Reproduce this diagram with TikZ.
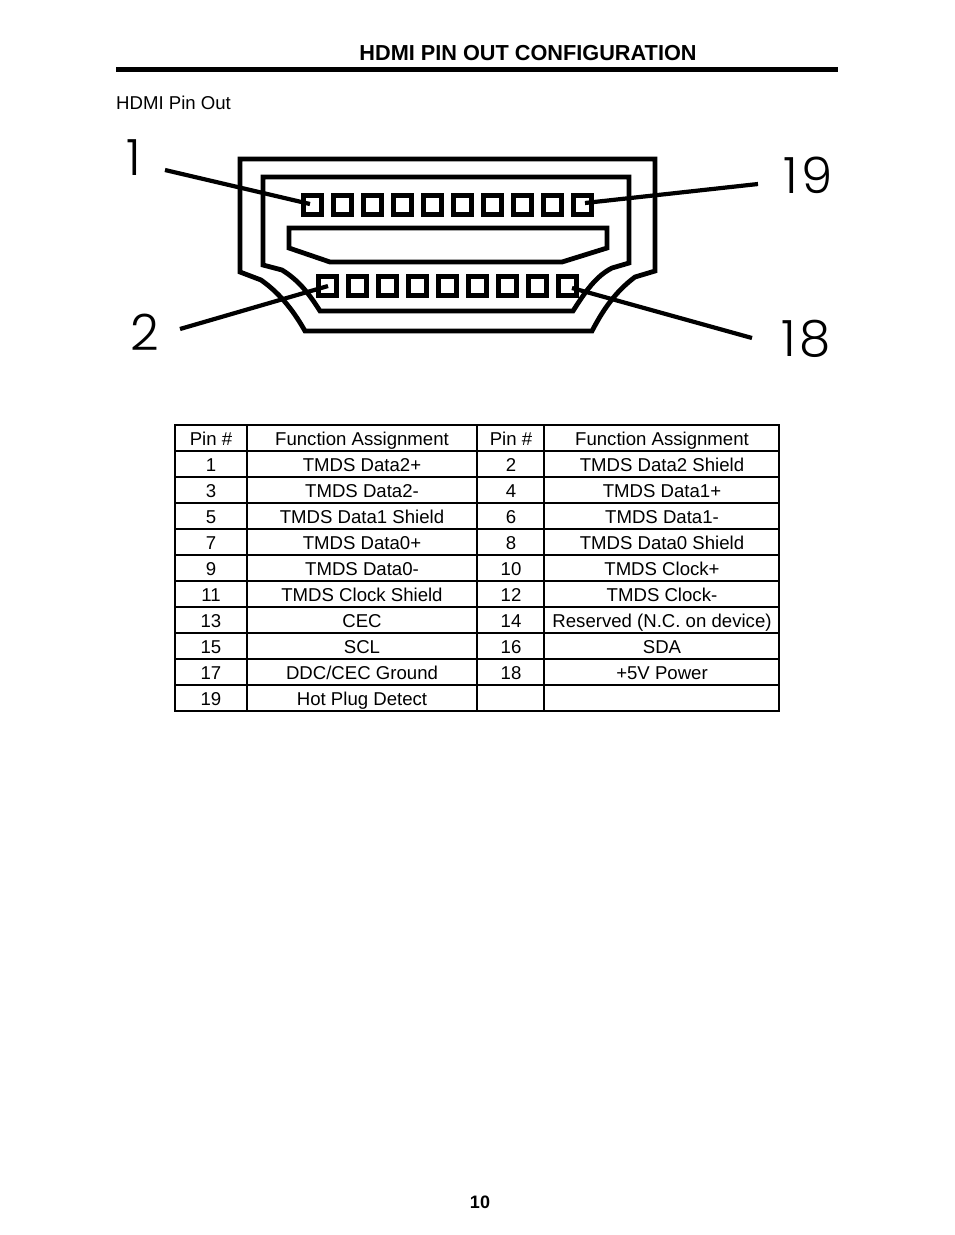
\documentclass[tikz,border=0pt]{standalone}
\usepackage{fontspec}
\setmainfont{Liberation Sans}
\newfontfamily\digitfont[UprightFont=* Light,LetterSpace=8]{Poppins}
\tikzset{
  shell/.style={line width=4.8pt,line join=miter,black},
  pinbox/.style={draw,line width=5pt,minimum width=18pt,minimum height=19.5pt,inner sep=0pt,outer sep=0pt},
  leader/.style={line width=4.2pt,black},
  grid/.style={line width=2.3pt,line cap=rect},
  cell/.style={font=\fontsize{18.6pt}{22pt}\selectfont,inner sep=0pt,anchor=base},
  bignum/.style={font=\digitfont\fontsize{50pt}{50pt}\selectfont,inner sep=0pt,anchor=base},
  titletext/.style={font=\bfseries\fontsize{21.7pt}{26pt}\selectfont,inner sep=0pt,anchor=base},
}
\newcommand{\trow}[5]{%
  \node[cell] (pa#1) at (211,#1) {#2};
  \node[cell] (fa#1) at (362,#1) {#3};
  \node[cell] (pb#1) at (511,#1) {#4};
  \node[cell] (fb#1) at (662,#1) {#5};
}
\begin{document}
\begin{tikzpicture}[x=1pt,y=-1pt]
\useasboundingbox (0,0) rectangle (954,1235);
\fill[white] (0,0) rectangle (954,1235);
% heading
\node[titletext] (title) at (528,60) {HDMI PIN OUT CONFIGURATION};
\fill (116,67) rectangle (838,72);
\node[cell,anchor=base west] (sub) at (116,109) {HDMI Pin Out};
% connector outline
\draw[shell] (240,159) -- (655,159) -- (655,271) -- (635,277)
  .. controls (615,292) and (603,310) .. (592,331) -- (305,331)
  .. controls (292,308) and (278,292) .. (261,280) -- (240,272) -- cycle;
\draw[shell] (263,177) -- (629,177) -- (629,263) -- (612,268)
  .. controls (596,276) and (585,292) .. (573,311) -- (320,311)
  .. controls (308,292) and (298,280) .. (282,270) -- (263,265) -- cycle;
\draw[shell] (289,228) -- (607,228) -- (607,248) -- (562,262) -- (330,262) -- (289,248) -- cycle;
% pins
\foreach \i in {0,...,9} \node[pinbox] (top\i) at ({312+30.1*\i},205) {};
\foreach \i in {0,...,8} \node[pinbox] (bot\i) at ({327+30.1*\i},286) {};
% leaders
\coordinate (e1) at (165,170);  \coordinate (p1) at (310,204);
\coordinate (e2) at (180,329);  \coordinate (p2) at (328,286);
\coordinate (e19) at (758,184); \coordinate (p19) at (585,203);
\coordinate (e18) at (752,338); \coordinate (p18) at (572,288);
\draw[leader] (e1) -- (p1);
\draw[leader] (e2) -- (p2);
\draw[leader] (e19) -- (p19);
\draw[leader] (e18) -- (p18);
\node[bignum] (n1) at (134,175) {1};
\node[bignum] (n2) at (145,350) {2};
\node[bignum] (n19) at (808,193) {19};
\node[bignum] (n18) at (806,356) {18};
% table grid
\foreach \y in {425,451,...,711} \draw[grid] (175,\y) -- (779,\y);
\foreach \x in {175,247,477,544,779} \draw[grid] (\x,425) -- (\x,711);
\trow{445}{Pin \#}{Function Assignment}{Pin \#}{Function Assignment}
\trow{471}{1}{TMDS Data2+}{2}{TMDS Data2 Shield}
\trow{497}{3}{TMDS Data2-}{4}{TMDS Data1+}
\trow{523}{5}{TMDS Data1 Shield}{6}{TMDS Data1-}
\trow{549}{7}{TMDS Data0+}{8}{TMDS Data0 Shield}
\trow{575}{9}{TMDS Data0-}{10}{TMDS Clock+}
\trow{601}{11}{TMDS Clock Shield}{12}{TMDS Clock-}
\trow{627}{13}{CEC}{14}{Reserved (N.C. on device)}
\trow{653}{15}{SCL}{16}{SDA}
\trow{679}{17}{DDC/CEC Ground}{18}{+5V Power}
\node[cell] (pa705) at (211,705) {19};
\node[cell] (fa705) at (362,705) {Hot Plug Detect};
% page number
\node[cell,font=\bfseries\fontsize{18pt}{22pt}\selectfont] (page) at (480,1208) {10};
\end{tikzpicture}
\end{document}
